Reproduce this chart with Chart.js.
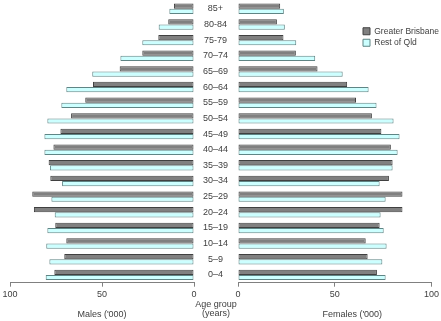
<!DOCTYPE html>
<html>
<head>
<meta charset="utf-8">
<script src="https://cdn.jsdelivr.net/npm/chart.js@4.4.0/dist/chart.umd.min.js"></script>
<style>
  html, body { margin: 0; padding: 0; background: #fff; }
  #wrap { position: relative; width: 441px; height: 321px; }
  #wrap canvas { position: absolute; left: 0; top: 0; }
</style>
</head>
<body>
<div id="wrap">
  <canvas id="males" width="441" height="321"></canvas>
  <canvas id="ages" width="441" height="321"></canvas>
  <canvas id="females" width="441" height="321"></canvas>
</div>
<script>
// Age groups, top of the pyramid first
const ageGroups = ['85+', '80-84', '75-79', '70–74', '65–69', '60–64', '55–59', '50–54', '45–49',
                   '40–44', '35–39', '30–34', '25–29', '20–24', '15–19', '10–14', '5–9', '0–4'];

// Persons ('000), same order as ageGroups
const maleBrisbane   = [10.9, 14.0, 19.4, 28.1, 40.4, 54.9, 59.1, 66.8, 72.6, 76.4, 79.0, 78.1, 87.9, 87.0, 75.4, 69.4, 70.5, 75.9];
const maleRestQld    = [13.4, 19.2, 28.1, 40.0, 55.3, 69.4, 72.1, 79.7, 81.3, 81.3, 78.3, 71.7, 77.5, 75.7, 79.7, 80.3, 78.6, 80.6];
const femaleBrisbane = [21.8, 20.1, 23.5, 29.9, 41.1, 56.4, 61.0, 69.2, 74.1, 79.0, 79.9, 78.0, 85.0, 85.0, 73.2, 66.0, 67.0, 71.8];
const femaleRestQld  = [23.7, 24.2, 30.1, 39.9, 54.1, 67.5, 71.6, 80.4, 83.5, 82.5, 79.9, 73.2, 76.3, 73.7, 75.3, 76.8, 74.6, 76.3];

// x axis range / tick step
const axisMin = 0;
const axisMax = 100;
const axisStep = 50;

const seriesNames = ['Greater Brisbane', 'Rest of Qld'];

const textColor = '#404040';
const lineColor = '#808080';

Chart.defaults.font.family = '"Liberation Sans", Arial, sans-serif';
Chart.defaults.font.size = 9;
Chart.defaults.color = textColor;

function barSets(gb, rq) {
    return [
        {
            label: seriesNames[0],
            data: gb,
            backgroundColor: '#808080',
            borderColor: '#404040',
            borderWidth: 1,
            borderSkipped: false,
            barPercentage: 1,
            categoryPercentage: 0.67
        },
        {
            label: seriesNames[1],
            data: rq,
            backgroundColor: '#ccffff',
            borderColor: '#5f8585',
            borderWidth: 1,
            borderSkipped: false,
            barPercentage: 1,
            categoryPercentage: 0.67
        }
    ];
}

function valueAxis(reverse, title) {
    return {
        type: 'linear',
        min: axisMin,
        max: axisMax,
        reverse: reverse,
        ticks: { stepSize: axisStep, padding: 2, color: textColor },
        grid: { drawOnChartArea: false, drawTicks: true, tickLength: 4, color: lineColor },
        border: { display: true, color: lineColor },
        title: {
            display: true,
            text: title,
            color: textColor,
            font: { size: 9, lineHeight: 1 },
            padding: { top: 8.5, bottom: 2 }
        }
    };
}

function sideChart(id, gb, rq, reverse, title, padLeft, padRight, showLegend) {
    const extra = [];
    if (showLegend) {
        // park the legend in the empty top right corner
        extra.push({
            id: 'legendSpot',
            afterLayout(chart) {
                const lg = chart.legend;
                lg.left = 360;
                lg.top = 24;
                lg.right = chart.width;
                lg.bottom = 80;
            }
        });
    }
    return new Chart(document.getElementById(id), {
        type: 'bar',
        data: { labels: ageGroups, datasets: barSets(gb, rq) },
        plugins: extra,
        options: {
            indexAxis: 'y',
            responsive: false,
            animation: false,
            events: [],
            layout: { padding: { left: padLeft, right: padRight, top: 1, bottom: 0 } },
            scales: {
                x: valueAxis(reverse, title),
                y: { type: 'category', display: false }
            },
            plugins: {
                tooltip: { enabled: false },
                legend: {
                    display: showLegend,
                    position: 'chartArea',
                    align: 'start',
                    labels: { boxWidth: 7, boxHeight: 7, padding: 3, color: textColor, font: { size: 8.5 } }
                }
            }
        }
    });
}

// Males on the left, axis runs right to left
sideChart('males', maleBrisbane, maleRestQld, true, "Males ('000)", 10, 247, false);

// Females on the right
sideChart('females', femaleBrisbane, femaleRestQld, false, "              Females ('000)", 238, 9, true);

// Age group labels down the middle
new Chart(document.getElementById('ages'), {
    type: 'bar',
    data: { labels: ageGroups, datasets: [] },
    options: {
        indexAxis: 'y',
        responsive: false,
        animation: false,
        events: [],
        layout: { padding: { left: 184, right: 193, top: 1, bottom: 0 } },
        scales: {
            x: { type: 'linear', display: false },
            y: {
                type: 'category',
                position: 'left',
                grid: { display: false },
                border: { display: false },
                ticks: { crossAlign: 'center', padding: 0, autoSkip: false, color: textColor },
                afterFit(axis) {
                    // fixed width and no extra padding so rows line up with the bars
                    axis.width = 52;
                    axis.paddingTop = 0;
                    axis.paddingBottom = 0;
                }
            }
        },
        plugins: {
            legend: { display: false },
            tooltip: { enabled: false },
            title: {
                display: true,
                position: 'bottom',
                text: ['Age group', '(years)'],
                color: textColor,
                font: { size: 9, weight: 'normal', lineHeight: 1 },
                padding: { top: 17.8, bottom: 2.5 }
            }
        }
    }
});
</script>
</body>
</html>
